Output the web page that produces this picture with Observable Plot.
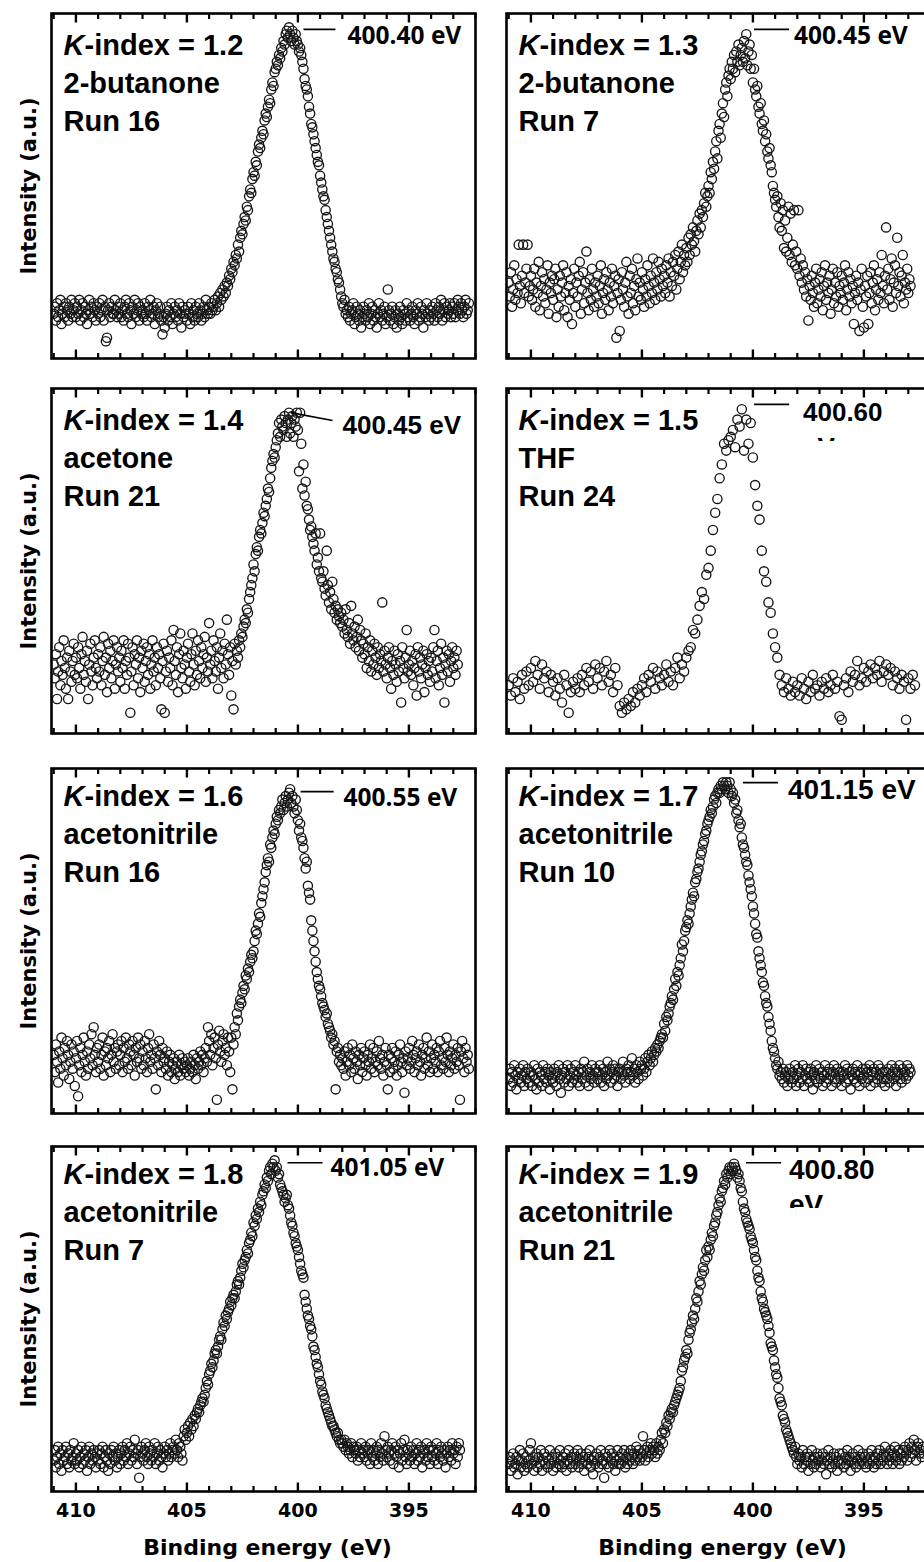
<!DOCTYPE html>
<html>
<head>
<meta charset="utf-8">
<script src="https://cdn.jsdelivr.net/npm/d3@7"></script>
<script src="https://cdn.jsdelivr.net/npm/@observablehq/plot@0.6"></script>
<style>
  body { margin: 0; background: #fff; }
  #figure { position: relative; width: 924px; height: 1562px; overflow: hidden; background: #fff; }
  #figure svg { position: absolute; max-width: none; }
</style>
</head>
<body>
<div id="figure"></div>
<script>
// N 1s spectra: normalised intensity (% of panel height), sampled on a regular energy grid
const butanoneRun16 = [
  13,15,11,16,12,14,17,10,13,15,12,16,14,11,15,13,17,12,14,16,
  12,15,13,17,11,14,16,12,15,13,10,14,17,13,15,12,16,14,11,15,
  13,16,12,14,17,11,15,5,6,14,16,12,15,13,13,17,14,12,15,13,
  16,12,14,11,15,17,13,12,16,14,10,15,13,17,12,14,16,11,15,13,
  14,12,16,13,11,15,14,17,12,13,15,10,14,16,12,13,15,11,7,12,
  9,13,15,11,14,12,16,10,13,15,12,14,11,16,13,9,15,12,14,13,
  11,15,13,10,16,12,14,11,15,13,12,16,14,11,13,15,12,17,14,13,
  15,13,16,14,15,17,14,16,18,15,19,17,20,18,21,19,22,21,24,23,
  26,25,28,27,30,29,33,31,35,37,36,39,41,40,44,43,47,49,48,52,
  54,53,57,56,60,62,61,64,66,65,69,71,70,73,75,74,78,80,79,83,
  84,86,85,88,87,90,89,92,91,94,95,93,96,94,92,95,93,91,94,92,
  91,89,90,88,86,84,81,79,78,76,73,71,68,67,65,63,61,59,57,56,
  53,51,49,47,46,43,41,39,37,35,33,31,29,28,26,25,23,22,20,18,
  16,15,17,13,14,12,15,11,13,14,16,10,12,15,13,11,14,9,12,15,
  13,11,14,12,16,10,13,15,11,14,12,9,13,16,12,14,11,13,15,10,
  12,20,14,11,13,15,10,12,14,9,13,11,15,12,10,14,13,11,16,12,
  14,11,13,15,12,10,14,13,16,11,12,15,13,9,14,12,16,13,11,14,
  12,15,13,11,16,14,12,15,13,17,11,14,16,12,15,13,14,16,12,15,
  13,16,12,14,17,15,13,16,14,12,15,17,13,14,16
];
const butanoneRun7 = [
  22,18,25,15,20,27,17,23,19,33,21,16,24,33,19,22,26,33,18,21,
  24,17,20,26,15,22,19,28,14,21,25,18,23,16,20,27,13,22,19,24,
  17,23,26,12,20,15,24,18,22,27,14,19,25,12,21,17,23,10,19,26,
  15,22,18,24,28,13,20,25,16,22,31,19,14,23,17,26,20,15,22,18,
  24,16,21,27,13,19,23,17,25,20,14,22,18,26,16,21,24,6,19,23,
  8,17,25,20,15,22,28,18,13,24,19,26,16,21,14,23,29,18,22,17,
  25,20,15,23,18,27,21,16,24,19,29,22,17,25,20,28,23,18,26,21,
  24,19,27,22,29,18,25,21,28,24,30,20,26,31,23,28,33,25,30,27,
  32,28,35,30,36,33,38,34,31,37,40,36,42,38,43,41,45,48,44,47,
  50,48,54,52,57,55,60,63,58,66,68,64,71,74,70,78,80,76,82,84,
  81,86,84,88,83,89,86,91,85,88,90,86,92,87,94,85,89,91,84,88,
  80,84,78,76,79,73,71,74,68,66,69,63,65,60,58,61,56,54,50,48,
  46,44,47,41,38,45,37,43,32,40,31,35,44,30,42,28,33,43,27,31,
  26,43,24,29,22,27,20,25,18,23,11,21,17,24,19,15,22,26,16,20,
  23,18,25,14,21,27,17,22,19,24,13,20,26,16,22,18,25,15,21,19,
  24,17,22,27,14,20,25,18,23,16,21,10,19,24,17,22,8,20,26,15,
  9,21,18,24,10,19,25,16,22,27,14,20,23,17,25,19,30,21,16,24,
  38,20,26,17,23,29,15,22,27,19,35,21,25,18,24,30,16,22,20,26,
  19,23,21
];
const acetoneRun21 = [
  20,16,23,10,18,25,14,21,17,27,19,13,22,10,24,18,15,21,26,17,
  22,16,25,19,13,23,28,17,21,15,24,10,20,26,18,14,22,27,19,16,
  23,18,25,14,21,28,17,22,12,26,19,24,16,21,27,13,20,25,18,22,
  15,24,19,27,13,21,17,26,22,6,18,25,14,23,20,27,16,22,12,24,
  19,26,15,21,25,17,23,13,20,27,18,22,14,25,19,23,16,7,21,26,
  6,18,24,15,22,19,27,14,30,21,17,25,12,23,29,19,16,24,20,13,
  22,26,18,15,23,29,20,14,24,17,27,21,16,25,19,23,28,15,22,18,
  32,20,24,16,27,21,18,25,13,22,29,19,24,16,26,20,33,23,17,25,
  11,21,7,26,20,24,22,27,25,29,28,31,33,32,36,35,39,41,43,45,
  49,47,52,54,53,57,59,58,61,64,63,66,68,71,70,74,77,79,81,80,
  83,85,87,90,86,91,89,88,92,90,86,91,93,87,90,92,86,91,89,93,
  88,76,93,84,71,78,69,73,66,65,62,59,60,57,55,53,58,49,51,47,
  58,45,44,47,42,40,53,43,38,41,36,44,39,35,37,33,36,34,32,35,
  31,33,29,36,30,28,32,26,37,29,27,31,25,28,33,24,30,27,22,26,
  23,29,19,25,21,27,18,24,20,26,22,17,25,19,23,21,38,18,24,20,
  16,22,25,19,13,21,17,24,20,15,23,18,21,9,25,19,16,22,30,18,
  20,24,17,21,14,19,23,11,25,18,22,16,20,24,12,19,23,17,21,15,
  22,18,25,30,16,21,24,14,19,26,17,22,9,20,24,18,23,15,21,25,
  19,22,17,24,20
];
const thfRun24 = [
  14,11,16,12,15,10,17,13,18,14,
  19,15,21,17,13,20,16,18,12,17,
  15,11,16,13,9,17,14,6,12,15,
  13,16,12,17,14,19,15,18,13,20,
  16,19,14,18,21,15,17,12,19,14,
  8,6,9,7,10,8,12,9,13,11,
  14,16,12,17,15,19,13,18,16,14,
  17,20,15,18,14,19,22,16,20,18,
  22,24,25,30,29,33,37,41,39,46,
  48,53,59,64,68,74,78,84,82,85,
  86,88,83,91,89,94,82,91,84,90,
  80,72,66,62,53,47,44,38,35,29,
  25,22,17,14,12,16,13,11,15,12,
  14,11,16,13,10,15,12,17,13,14,
  11,15,13,16,12,14,17,13,15,5,
  4,14,16,12,18,15,17,21,14,16,
  19,15,18,20,16,19,17,21,15,18,
  20,17,19,14,18,16,13,17,15,4,
  16,13,17,14
];
const acetonitrileRun16 = [
  17,12,20,15,9,18,13,22,16,11,19,14,21,17,10,15,20,13,18,8,
  16,21,5,14,19,12,17,22,15,11,18,13,20,16,23,14,25,17,12,19,
  15,20,13,17,22,11,18,14,19,16,21,12,17,23,15,19,13,18,20,14,
  17,21,12,19,15,22,16,13,20,18,14,21,17,11,19,15,22,16,20,13,
  18,14,21,16,12,19,23,15,17,13,20,16,7,18,14,21,17,12,19,15,
  16,13,18,11,15,17,12,14,16,10,13,15,12,17,11,14,16,13,15,12,
  14,16,11,13,15,12,17,14,10,16,13,15,18,14,17,12,16,19,15,25,
  21,17,23,14,19,22,16,4,20,24,18,15,21,23,17,19,14,22,18,12,
  22,7,20,25,23,29,27,31,33,32,35,37,36,40,39,42,41,44,46,45,
  47,50,53,52,55,58,57,61,63,65,67,70,72,74,73,78,77,80,82,81,
  84,86,85,88,87,89,91,88,90,92,89,91,93,94,90,92,89,87,91,88,
  85,82,84,80,79,77,74,71,73,66,64,62,56,53,50,47,44,41,39,37,
  36,34,32,31,30,28,29,26,25,24,22,23,20,21,7,18,19,15,17,14,
  16,13,18,11,15,19,14,17,12,20,16,13,18,15,10,17,14,19,12,16,
  18,14,11,17,15,20,13,16,19,12,15,18,14,21,16,13,17,11,15,19,
  14,7,17,12,16,19,13,15,18,11,14,17,20,15,12,16,6,18,14,16,
  19,13,15,21,17,12,16,18,14,20,15,11,17,19,13,16,22,14,18,12,
  16,20,13,17,15,19,12,18,21,14,16,13,19,15,22,17,12,18,14,16,
  20,13,17,15,19,14,4,18,21,16,12,19,15,17,13
];
const acetonitrileRun10 = [
  10,13,8,12,9,14,11,7,12,10,13,9,11,14,8,12,10,13,9,11,
  12,8,11,14,10,7,13,9,12,11,8,14,10,12,9,13,11,7,12,10,
  9,13,11,8,12,14,10,6,11,13,9,12,10,14,8,11,13,9,12,10,
  14,11,9,12,8,13,10,12,15,9,11,13,8,12,10,14,11,9,13,12,
  10,12,14,9,11,13,8,12,10,15,11,13,9,12,14,10,13,11,8,12,
  13,10,12,15,11,9,13,12,14,10,12,16,11,13,9,14,12,10,15,13,
  14,11,13,16,12,15,17,14,16,18,15,17,19,18,20,19,21,22,23,22,
  26,24,28,27,29,31,32,34,33,36,39,37,41,40,43,45,49,47,50,53,
  54,56,55,58,60,62,64,63,67,68,70,71,73,75,76,78,79,81,82,84,
  85,86,88,87,89,91,92,90,93,94,93,95,94,96,95,94,96,95,93,96,
  94,92,93,90,91,87,88,85,83,84,80,78,77,75,73,72,69,67,65,63,
  60,58,55,52,51,47,45,43,41,38,37,34,32,31,28,26,24,21,19,18,
  16,14,13,15,11,12,10,13,9,11,12,8,10,13,11,9,12,10,14,8,
  11,13,9,12,10,14,8,11,13,10,12,9,13,11,7,12,10,14,9,11,
  13,10,12,8,11,14,9,12,10,13,11,8,12,14,10,9,13,11,12,10,
  8,12,11,14,9,13,10,12,7,11,13,10,12,9,14,11,8,12,10,13,
  11,9,13,12,10,14,8,12,11,13,9,12,10,14,11,13,9,12,10,8,
  12,10,13,9,11,14,12,10,13,8,11,12,14,10,9,13,11,12,10,14,
  11,13,12
];
const acetonitrileRun7 = [
  9,12,7,10,13,8,11,6,12,9,10,13,8,11,7,12,9,10,14,8,
  11,9,12,7,10,13,8,11,9,12,6,10,13,8,11,9,12,10,7,11,
  9,12,8,11,13,7,10,12,9,6,11,8,12,10,13,9,11,7,10,12,
  8,11,13,9,12,10,14,8,11,13,9,12,10,15,11,8,12,4,10,13,
  11,9,12,14,10,8,13,11,9,12,10,14,8,11,13,9,12,10,7,11,
  13,10,12,9,11,14,10,12,13,11,15,12,10,14,13,11,9,16,18,15,
  17,19,16,20,18,21,19,22,21,23,24,23,25,26,27,26,28,30,32,31,
  34,35,37,36,38,40,41,40,42,44,45,44,47,49,48,51,50,52,53,55,
  54,56,57,56,58,60,61,60,62,64,66,65,67,68,70,69,72,73,75,74,
  78,77,80,79,82,81,84,83,86,87,89,88,91,90,93,94,92,95,94,96,
  93,94,91,92,89,88,87,86,84,85,86,83,82,80,78,77,75,74,72,71,
  70,68,66,64,63,62,57,55,53,51,50,48,47,45,42,41,39,37,36,34,
  32,31,29,28,27,25,24,23,22,21,20,19,19,18,17,16,17,15,14,15,
  14,13,15,12,14,13,11,12,14,10,13,12,11,13,9,12,10,14,11,12,
  10,13,9,11,12,8,14,10,12,9,11,13,8,12,10,14,11,9,16,12,
  10,13,11,9,12,14,8,11,13,10,12,7,11,14,9,12,15,10,8,12,
  11,9,13,10,12,8,11,14,9,12,10,13,7,11,12,9,14,10,12,8,
  13,10,12,9,11,14,8,12,10,13,11,9,12,7,11,13,10,12,9,14,
  11,12,8,13,10,14,12
];
const acetonitrileRun21 = [
  8,10,6,9,11,7,8,10,5,9,12,7,9,11,6,8,10,7,9,12,
  14,8,10,6,9,11,7,10,8,12,6,9,11,8,10,7,9,12,8,10,
  6,9,11,7,10,8,12,9,7,10,8,11,6,9,12,8,10,7,9,11,
  8,10,12,7,9,11,8,10,6,9,11,8,10,12,7,9,5,10,8,11,
  9,7,10,12,8,9,4,11,8,10,7,12,9,11,8,10,6,9,12,8,
  10,8,11,9,12,7,10,8,11,9,12,10,8,11,9,13,10,12,9,11,
  10,16,12,9,11,13,10,12,14,11,13,12,10,14,11,13,12,15,17,14,
  18,17,20,19,22,21,23,24,23,25,26,27,28,29,30,32,35,36,38,39,
  41,40,44,46,47,49,51,50,53,56,55,58,61,60,63,65,64,67,70,68,
  71,70,73,75,74,77,78,80,81,83,85,84,87,88,90,89,92,91,93,94,
  92,94,93,95,94,93,91,92,90,88,87,84,82,81,79,78,77,76,74,73,
  72,70,68,67,64,62,61,58,56,55,53,52,51,50,48,46,43,42,41,38,
  36,34,33,30,27,26,25,22,21,20,18,17,16,15,14,13,12,11,13,10,
  8,11,9,10,7,12,8,10,9,11,6,10,8,12,9,7,10,8,11,9,
  10,7,9,11,8,10,5,9,12,8,10,7,9,11,8,10,6,9,11,8,
  9,11,7,10,8,12,9,10,6,9,11,8,10,7,9,12,8,10,9,11,
  8,10,7,9,11,8,10,12,9,7,10,8,11,9,12,8,10,9,11,13,
  10,8,11,9,12,10,8,11,13,9,10,12,8,11,9,12,10,13,11,9,
  12,14,10,13,11,15,12,9,13,14,11,12,10,13,11
];

// Panel order: left/right across, then down
const spectra = [butanoneRun16, butanoneRun7, acetoneRun21, thfRun24,
                 acetonitrileRun16, acetonitrileRun10, acetonitrileRun7, acetonitrileRun21];
const energyStart = [411.0, 411.0, 411.0, 411.0, 411.0, 411.0, 411.0, 411.0];   // eV
const energyStep  = [0.05, 0.05, 0.05, 0.1, 0.05, 0.05, 0.05, 0.05];           // eV

const kIndex   = ["1.2", "1.3", "1.4", "1.5", "1.6", "1.7", "1.8", "1.9"];
const solvents = ["2-butanone", "2-butanone", "acetone", "THF", "acetonitrile", "acetonitrile", "acetonitrile", "acetonitrile"];
const runs     = ["Run 16", "Run 7", "Run 21", "Run 24", "Run 16", "Run 10", "Run 7", "Run 21"];
const peakLabels = ["400.40 eV", "400.45 eV", "400.45 eV", "400.60", "400.55 eV", "401.15 eV", "401.05 eV", "400.80"];
const peakUnitLines = ["", "", "", "eV", "", "", "", "eV"];

// Leader lines from the peak top to its label (eV, % intensity)
const leaderX1 = [399.75, 399.95, 400.33, 399.95, 399.88, 400.45, 400.47, 400.31];
const leaderX2 = [398.31, 398.37, 398.44, 398.37, 398.39, 398.87, 398.89, 398.73];
const leaderY1 = [95.4, 95.4, 93.0, 95.4, 93.3, 95.9, 95.3, 95.3];
const leaderY2 = [95.4, 95.4, 90.7, 95.4, 93.3, 95.9, 95.3, 95.3];

const majorTicks = [410, 405, 400, 395];
const minorTicks = [392, 393, 394, 396, 397, 398, 399, 401, 402, 403, 404, 406, 407, 408, 409, 411];
const energyDomain = [411.1, 392.0];
const intensityDomain = [0, 100];

// ---- layout ----
const frameW = 424, frameH = 345, pad = 4;
const frameLeft = [51, 505.5];
const frameTop = [13, 388, 768, 1146];
const labelBaseline = [41, 41, 37, 37];
const labelStyle = {fontFamily: "'Liberation Sans', Arial, sans-serif", fontWeight: "bold", fontSize: 29};
const axisFont = "'DejaVu Sans', sans-serif";
const humanist = "'Open Sans', 'Noto Sans', sans-serif";
const grotesk = "'Liberation Sans', Arial, sans-serif";
// peak label: [dx, dy, font, size]
const peakStyle = [
  [296, 30, humanist, 24.5],
  [287.5, 30, humanist, 24.5],
  [291, 45, grotesk, 26],
  [296.5, 32, grotesk, 26],
  [292, 37, humanist, 24.5],
  [281.5, 30, grotesk, 28],
  [279, 29, humanist, 24.5],
  [282.5, 32, grotesk, 28]
];
const unitClip = {3: 53, 7: 62};
// tick lengths in px, turned into intensity units of the panel
const minorLen = 5.5 * 100 / frameH, majorLen = 9 * 100 / frameH;

// inward tick marks along the bottom and top edges
function edgeTicks(values, len, width) {
  const hi = intensityDomain[1], lo = intensityDomain[0];
  return [
    Plot.link(values, {x1: (d) => d, x2: (d) => d, y1: () => lo, y2: () => lo + len, stroke: "#000", strokeWidth: width}),
    Plot.link(values, {x1: (d) => d, x2: (d) => d, y1: () => hi, y2: () => hi - len, stroke: "#000", strokeWidth: width})
  ];
}

const figure = document.getElementById("figure");
const ns = "http://www.w3.org/2000/svg";

spectra.forEach((values, i) => {
  const col = i % 2, row = Math.floor(i / 2);
  const isBottom = row === 3;
  const mL = col === 0 ? 51 : pad;
  const mB = isBottom ? 76 : pad;
  const points = values.map((v, j) => ({energy: energyStart[i] - j * energyStep[i], intensity: v}));
  const [pdx, pdy, pfont, psize] = peakStyle[i];
  const base = labelBaseline[row];

  const marks = [
    Plot.dot(points, {x: "energy", y: "intensity", r: 4.6, stroke: "#161616", strokeWidth: 1.35, fill: "none", clip: true}),
    ...edgeTicks(minorTicks, minorLen, 2.2),
    ...edgeTicks(majorTicks, majorLen, 2.4),
    Plot.frame({stroke: "#000", strokeWidth: 2.6}),
    // sample label
    Plot.text(["K"], {frameAnchor: "top-left", textAnchor: "start", lineAnchor: "bottom", dx: 12, dy: base, fontStyle: "italic", ...labelStyle}),
    Plot.text([`-index = ${kIndex[i]}`], {frameAnchor: "top-left", textAnchor: "start", lineAnchor: "bottom", dx: 33, dy: base, ...labelStyle}),
    Plot.text([solvents[i]], {frameAnchor: "top-left", textAnchor: "start", lineAnchor: "bottom", dx: 12, dy: base + 38, ...labelStyle}),
    Plot.text([runs[i]], {frameAnchor: "top-left", textAnchor: "start", lineAnchor: "bottom", dx: 12, dy: base + 76, ...labelStyle}),
    // peak position
    Plot.link([0], {x1: () => leaderX1[i], x2: () => leaderX2[i], y1: () => leaderY1[i], y2: () => leaderY2[i], stroke: "#000", strokeWidth: 1.6}),
    Plot.text([peakLabels[i]], {frameAnchor: "top-left", textAnchor: "start", lineAnchor: "bottom", dx: pdx, dy: pdy, fontFamily: pfont, fontWeight: "bold", fontSize: psize})
  ];
  if (peakUnitLines[i]) {
    marks.push(Plot.text([peakUnitLines[i]], {frameAnchor: "top-left", textAnchor: "start", lineAnchor: "bottom", dx: pdx, dy: pdy + 35, fontFamily: pfont, fontWeight: "bold", fontSize: psize}));
  }
  if (col === 0) {
    marks.push(Plot.text(["Intensity (a.u.)"], {frameAnchor: "left", rotate: -90, dx: -22, textAnchor: "middle", lineAnchor: "middle", fontFamily: axisFont, fontWeight: "bold", fontSize: 21}));
  }
  if (isBottom) {
    marks.push(Plot.text(majorTicks, {x: (d) => d, text: (d) => String(d), frameAnchor: "bottom", dy: 19, lineAnchor: "middle", fontFamily: axisFont, fontWeight: "bold", fontSize: 19}));
    marks.push(Plot.text(["Binding energy (eV)"], {frameAnchor: "bottom", dx: 4, dy: 56, lineAnchor: "middle", fontFamily: axisFont, fontWeight: "bold", fontSize: 22}));
  }

  const svg = Plot.plot({
    width: mL + frameW + pad,
    height: pad + frameH + mB,
    marginLeft: mL,
    marginRight: pad,
    marginTop: pad,
    marginBottom: mB,
    x: {domain: energyDomain, axis: null},
    y: {domain: intensityDomain, axis: null},
    style: {background: "transparent", color: "#000", overflow: "visible"},
    marks
  });
  svg.style.left = (frameLeft[col] - mL) + "px";
  svg.style.top = (frameTop[row] - pad) + "px";
  figure.appendChild(svg);

  // the unit line under a wrapped peak label is cut off just below its top
  if (unitClip[i] !== undefined) {
    const unitText = [...svg.querySelectorAll("text")].find((t) => t.textContent === peakUnitLines[i]);
    let node = unitText;
    while (node && node.parentNode !== svg) node = node.parentNode;
    if (node) {
      const id = "unit-clip-" + i;
      const defs = document.createElementNS(ns, "defs");
      const cp = document.createElementNS(ns, "clipPath");
      cp.setAttribute("id", id);
      cp.setAttribute("clipPathUnits", "userSpaceOnUse");
      const rect = document.createElementNS(ns, "rect");
      rect.setAttribute("x", 0);
      rect.setAttribute("y", 0);
      rect.setAttribute("width", mL + frameW + pad);
      rect.setAttribute("height", pad + unitClip[i]);
      cp.appendChild(rect);
      defs.appendChild(cp);
      svg.insertBefore(defs, svg.firstChild);
      const wrap = document.createElementNS(ns, "g");
      node.parentNode.insertBefore(wrap, node);
      wrap.appendChild(node);
      wrap.setAttribute("clip-path", `url(#${id})`);
    }
  }
});
</script>
</body>
</html>
